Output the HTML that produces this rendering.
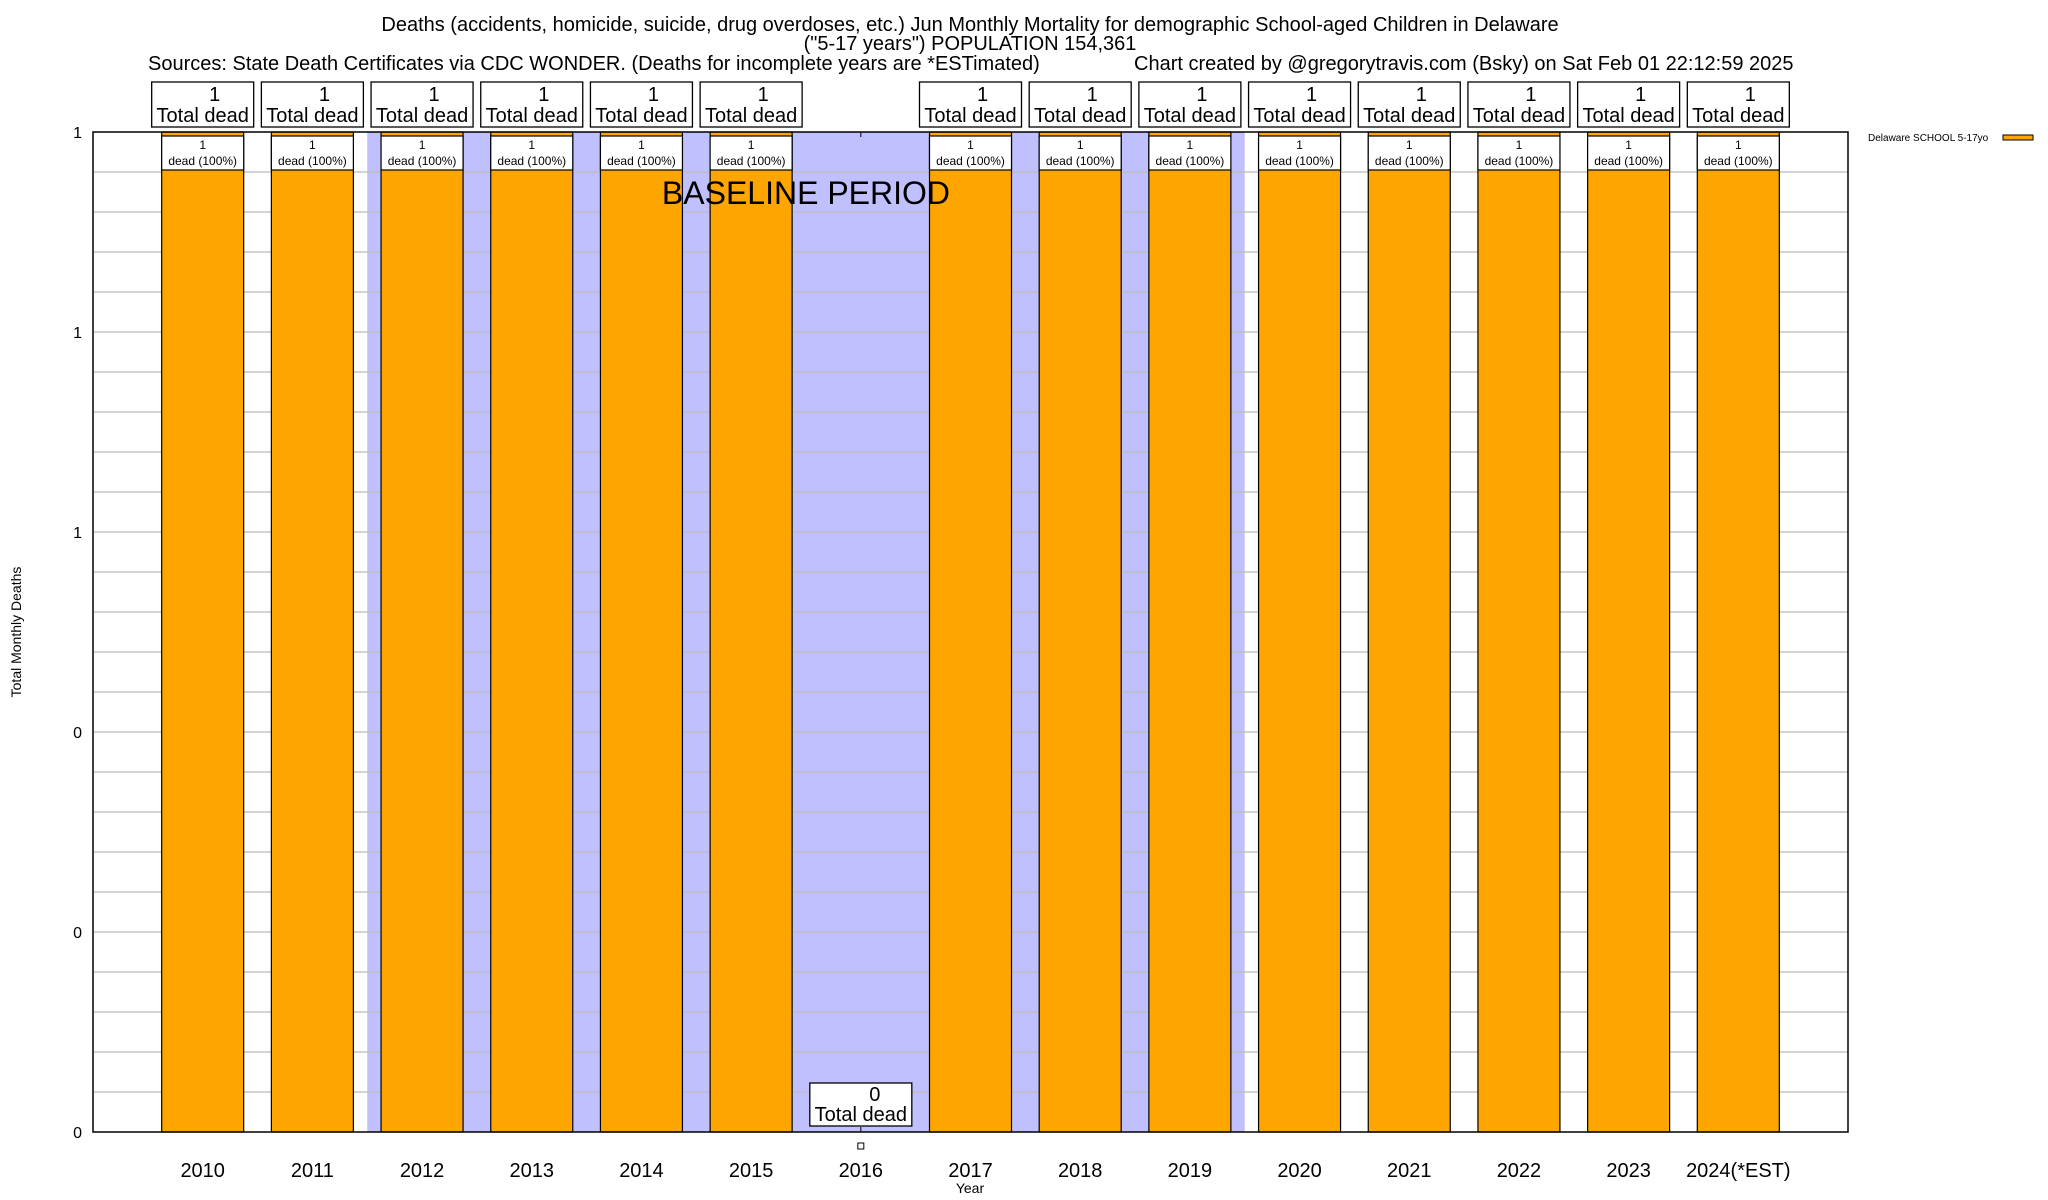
<!DOCTYPE html>
<html><head><meta charset="utf-8">
<style>
html,body{margin:0;padding:0;background:#fff;}
svg{display:block;font-family:"Liberation Sans",sans-serif;}
</style></head>
<body>
<svg id="chart" width="2048" height="1200" viewBox="0 0 2048 1200" xmlns="http://www.w3.org/2000/svg">
  <rect x="0" y="0" width="2048" height="1200" fill="#fff"/>
  <text x="970" y="31" font-size="20" text-anchor="middle">Deaths (accidents, homicide, suicide, drug overdoses, etc.) Jun Monthly Mortality for demographic School-aged Children in Delaware</text>
  <text x="970" y="50" font-size="20" text-anchor="middle">("5-17 years") POPULATION 154,361</text>
  <text x="148" y="70" font-size="20">Sources: State Death Certificates via CDC WONDER. (Deaths for incomplete years are *ESTimated)</text>
  <text x="1134" y="70" font-size="20">Chart created by @gregorytravis.com (Bsky) on Sat Feb 01 22:12:59 2025</text>
  <g id="plot"></g>
  <text transform="translate(21,632) rotate(-90)" font-size="14" text-anchor="middle">Total Monthly Deaths</text>
  <text x="970" y="1193" font-size="14" text-anchor="middle">Year</text>
  <g>
    <text x="1868" y="141" font-size="10">Delaware SCHOOL 5-17yo</text>
    <rect x="2003" y="135" width="30" height="5" fill="#ffa500" stroke="#000" stroke-width="1"/>
  </g>
</svg>
<script>
const categories = ["2010","2011","2012","2013","2014","2015","2016","2017","2018","2019","2020","2021","2022","2023","2024(*EST)"];
const deaths = [1,1,1,1,1,1,0,1,1,1,1,1,1,1,1];
const yTickValues = [0,0.2,0.4,0.6,0.8,1];
const yTickLabels = ["0","0","0","1","1","1"];
const baselineStart = 1.5;
const baselineEnd = 9.5;

const NS = "http://www.w3.org/2000/svg";
const L = 93, R = 1848, T = 132, B = 1132;
const yMax = 1;
const slot = (R - L) / (categories.length + 1);
function xPos(i){ return L + (i + 1) * slot; }
function yPos(v){ return B - (v / yMax) * (B - T); }
const barW = 82;
const g = document.getElementById('plot');
function el(tag, attrs, parent){
  const e = document.createElementNS(NS, tag);
  for (const k in attrs) e.setAttribute(k, attrs[k]);
  (parent || g).appendChild(e);
  return e;
}

const shade = el('rect', {x: xPos(baselineStart), y: T, width: xPos(baselineEnd) - xPos(baselineStart), height: B - T, fill: '#c0c0ff'});



for (let k = 1; k < 25; k++) {
  const v = k * 0.04;
  const gl = el('line', {x1: L, x2: R, y1: yPos(v), y2: yPos(v), stroke: '#bbbbbb', 'stroke-width': 1.3});
  
  
}

yTickValues.forEach((v, i) => {
  const t = el('text', {x: 82, y: yPos(v) + 6, 'font-size': 16, 'text-anchor': 'end'});
  t.textContent = yTickLabels[i];
  
  
});

categories.forEach((c, i) => {
  const x = xPos(i);
  el('line', {x1: x, x2: x, y1: T, y2: T + 5, stroke: '#000', 'stroke-width': 1});
  el('line', {x1: x, x2: x, y1: B, y2: B - 5, stroke: '#000', 'stroke-width': 1});
});

categories.forEach((c, i) => {
  const x = xPos(i);
  const v = deaths[i];
  if (v > 0) {
    const bar = el('rect', {x: x - barW / 2, y: yPos(v), width: barW, height: B - yPos(v), fill: '#ffa500', stroke: '#000', 'stroke-width': 1.2});
    
    
    const ib = el('rect', {x: x - barW / 2, y: yPos(v) + 4, width: barW, height: 34, fill: '#fff', stroke: '#000', 'stroke-width': 1.2});
    
    
    const t1 = el('text', {x: x, y: yPos(v) + 17, 'font-size': 12, 'text-anchor': 'middle'});
    t1.textContent = String(v);
    
    
    const t2 = el('text', {x: x, y: yPos(v) + 33, 'font-size': 12, 'text-anchor': 'middle'});
    t2.textContent = 'dead (100%)';
    
    
    const ab = el('rect', {x: x - 51, y: 82, width: 102, height: 45, fill: '#fff', stroke: '#000', 'stroke-width': 1.3});
    
    
    const a1 = el('text', {x: x + 12, y: 101, 'font-size': 20, 'text-anchor': 'middle'});
    a1.textContent = String(v);
    
    
    const a2 = el('text', {x: x, y: 122, 'font-size': 20, 'text-anchor': 'middle'});
    a2.textContent = 'Total dead';
    
    
  } else {
    const ab = el('rect', {x: x - 51, y: 1083, width: 102, height: 43, fill: '#fff', stroke: '#000', 'stroke-width': 1.3});
    
    
    const a1 = el('text', {x: x + 14, y: 1101, 'font-size': 20, 'text-anchor': 'middle'});
    a1.textContent = String(v);
    
    
    const a2 = el('text', {x: x, y: 1121, 'font-size': 20, 'text-anchor': 'middle'});
    a2.textContent = 'Total dead';
    
    
    const m = el('rect', {x: x - 3, y: 1143, width: 6, height: 6, fill: '#fff', stroke: '#000', 'stroke-width': 1});
    
    
  }
  const xl = el('text', {x: x, y: 1177, 'font-size': 20, 'text-anchor': 'middle'});
  xl.textContent = c;
  
  
});

const bl = el('text', {x: (xPos(5) + xPos(6)) / 2, y: 204, 'font-size': 32, 'text-anchor': 'middle'});
bl.textContent = 'BASELINE PERIOD';



const fr = el('rect', {x: L, y: T, width: R - L, height: B - T, fill: 'none', stroke: '#000', 'stroke-width': 1.5});


</script>
</body></html>
